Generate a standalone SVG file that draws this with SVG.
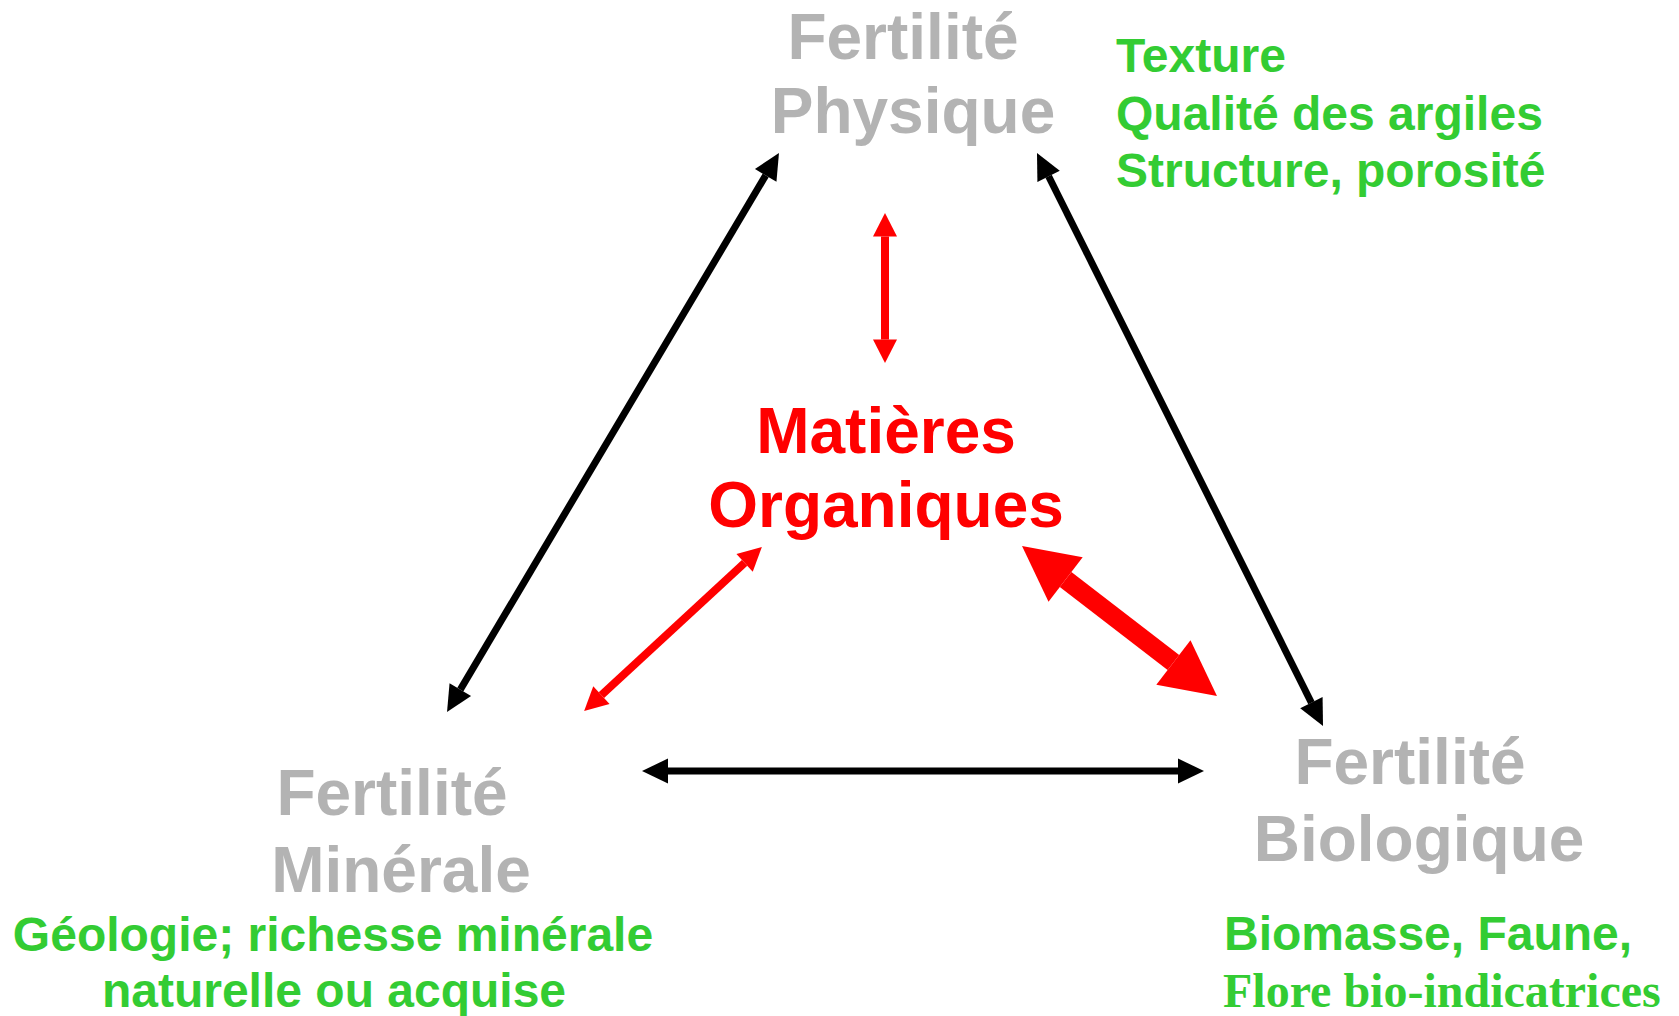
<svg xmlns="http://www.w3.org/2000/svg" width="1679" height="1016" viewBox="0 0 1679 1016">
<style>
.t{font-family:"Liberation Sans",Arial,sans-serif;font-weight:bold;}
.grey{fill:#b3b3b3;font-size:64px;text-anchor:middle;}
.red{fill:#ff0000;font-size:64px;text-anchor:middle;}
.green{fill:#33cc33;font-size:48px;}
.serif{font-family:"Liberation Serif","Times New Roman",serif;font-weight:bold;}
.blk{stroke:#000;stroke-width:7;fill:none;}
.rthin{stroke:#ff0000;stroke-width:8;fill:none;}
.rthick{stroke:#ff0000;stroke-width:19;fill:none;}
</style>
<defs>
<marker id="hb" markerUnits="userSpaceOnUse" viewBox="0 -13 27 26" refX="0" refY="0" markerWidth="27" markerHeight="26" orient="auto-start-reverse" overflow="visible">
<path d="M0,-12.5 L26,0 L0,12.5 Z" fill="#000"/>
</marker>
<marker id="hr" markerUnits="userSpaceOnUse" viewBox="0 -12 24 24" refX="0" refY="0" markerWidth="24" markerHeight="24" orient="auto-start-reverse" overflow="visible">
<path d="M0,-12 L23.5,0 L0,12 Z" fill="#ff0000"/>
</marker>
<marker id="hR" markerUnits="userSpaceOnUse" viewBox="0 -28 56 56" refX="0" refY="0" markerWidth="56" markerHeight="56" orient="auto-start-reverse" overflow="visible">
<path d="M0,-28 L55,0 L0,28 Z" fill="#ff0000"/>
</marker>
</defs>
<rect width="1679" height="1016" fill="#fff"/>
<g id="connectors">
<line class="blk" x1="765.7" y1="175.4" x2="460.3" y2="689.6" marker-start="url(#hb)" marker-end="url(#hb)"/>
<line class="blk" x1="1048.6" y1="176.3" x2="1311.4" y2="702.7" marker-start="url(#hb)" marker-end="url(#hb)"/>
<line class="blk" x1="668" y1="771" x2="1178" y2="771" marker-start="url(#hb)" marker-end="url(#hb)"/>
<line class="rthin" x1="885" y1="236.5" x2="885" y2="339.5" marker-start="url(#hr)" marker-end="url(#hr)"/>
<line class="rthin" x1="744.6" y1="562.9" x2="601.4" y2="695.1" marker-start="url(#hr)" marker-end="url(#hr)"/>
<line class="rthick" x1="1065.6" y1="579.5" x2="1173.4" y2="662.5" marker-start="url(#hR)" marker-end="url(#hR)"/>
</g>
<g id="physique">
<text class="t grey" x="903" y="59">Fertilité</text>
<text class="t grey" x="913" y="133">Physique</text>
</g>
<g id="physique-details">
<text class="t green" x="1116" y="72">Texture</text>
<text class="t green" x="1116" y="130">Qualité des argiles</text>
<text class="t green" x="1116" y="187">Structure, porosité</text>
</g>
<g id="matieres">
<text class="t red" x="886" y="453">Matières</text>
<text class="t red" x="886" y="527">Organiques</text>
</g>
<g id="minerale">
<text class="t grey" x="392" y="815">Fertilité</text>
<text class="t grey" x="401" y="892">Minérale</text>
</g>
<g id="minerale-details">
<text class="t green" x="333" y="951" text-anchor="middle">Géologie; richesse minérale</text>
<text class="t green" x="334" y="1007" text-anchor="middle">naturelle ou acquise</text>
</g>
<g id="biologique">
<text class="t grey" x="1410" y="784">Fertilité</text>
<text class="t grey" x="1419" y="861">Biologique</text>
</g>
<g id="biologique-details">
<text class="t green" x="1224" y="950">Biomasse, Faune,</text>
<text class="serif" fill="#33cc33" font-size="48" x="1223" y="1007">Flore bio-indicatrices</text>
</g>
</svg>
